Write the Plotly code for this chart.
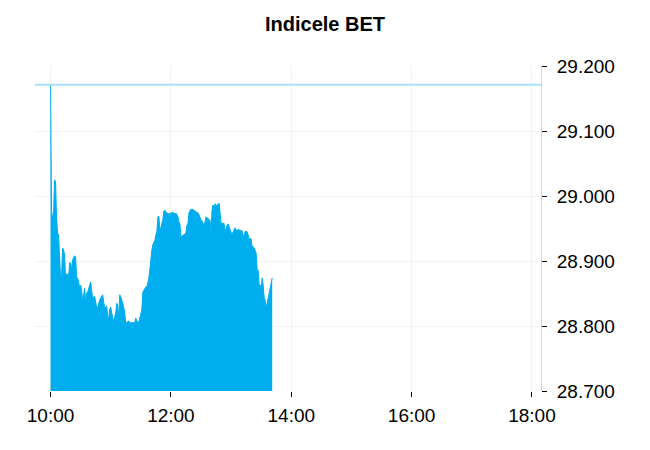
import plotly.graph_objects as go
import pandas as pd

# BET index, one value per minute from 10:00
start_time = "2024-05-20 10:00"
bet_values = [
    29171, 28978, 28966, 28971, 29025, 29022, 28968, 28943, 28940, 28914,
    28875, 28875, 28920, 28917, 28909, 28875, 28880, 28880, 28875, 28897,
    28897, 28886, 28902, 28905, 28908, 28906, 28875, 28874, 28868, 28860,
    28863, 28855, 28837, 28852, 28858, 28837, 28851, 28852, 28858, 28866,
    28868, 28855, 28843, 28845, 28845, 28837, 28828, 28829, 28837, 28840,
    28843, 28845, 28848, 28837, 28829, 28828, 28831, 28814, 28812, 28826,
    28829, 28820, 28814, 28806, 28814, 28820, 28835, 28832, 28809, 28848,
    28845, 28837, 28835, 28828, 28820, 28802, 28806, 28806, 28808, 28805,
    28805, 28805, 28805, 28806, 28805, 28812, 28809, 28805, 28806, 28814,
    28822, 28825, 28852, 28855, 28857, 28860, 28860, 28866, 28874, 28886,
    28905, 28917, 28925, 28929, 28932, 28940, 28945, 28968, 28969, 28948,
    28951, 28958, 28963, 28977, 28978, 28975, 28974, 28974, 28972, 28974,
    28972, 28975, 28974, 28974, 28971, 28974, 28971, 28968, 28960, 28957,
    28938, 28937, 28940, 28940, 28942, 28943, 28955, 28958, 28974, 28977,
    28980, 28978, 28980, 28975, 28978, 28975, 28974, 28974, 28971, 28966,
    28963, 28962, 28958, 28955, 28960, 28968, 28966, 28966, 28963, 28963,
    28943, 28978, 28986, 28983, 28988, 28985, 28986, 28988, 28989, 28975,
    28958, 28958, 28958, 28958, 28945, 28952, 28955, 28957, 28952, 28948,
    28943, 28940, 28945, 28948, 28951, 28948, 28946, 28949, 28948, 28945,
    28948, 28946, 28938, 28940, 28945, 28946, 28945, 28940, 28932, 28935,
    28934, 28922, 28922, 28920, 28914, 28912, 28886, 28886, 28863, 28863,
    28858, 28874, 28863, 28843, 28840, 28829, 28835, 28843, 28852, 28863,
    28871, 28874,
]
prev_close = 29171
y_range = [28700, 29200]
x_range = ["2024-05-20 09:44:30", "2024-05-20 18:09"]

times = pd.date_range(start_time, periods=len(bet_values), freq="min")

fig = go.Figure()
fig.add_trace(go.Scatter(
    x=times, y=bet_values,
    mode="lines",
    line=dict(color="#00aeef", width=1),
    fill="tozeroy",
    fillcolor="#00aeef",
    hoverinfo="skip",
))

# previous close reference line
fig.add_shape(
    type="line", xref="paper", x0=0, x1=1, yref="y", y0=prev_close, y1=prev_close,
    line=dict(color="#a8e2f7", width=2),
)

# page body adds an 8px offset, margins compensate for it
fig.update_layout(
    width=650, height=450,
    title=dict(text="<b>Indicele BET</b>", x=0.4877, xanchor="center", y=0.964, yanchor="middle",
               font=dict(family="Liberation Sans, Arial", size=20, color="#000000")),
    font=dict(family="Liberation Sans, Arial", size=19, color="#000000"),
    separators=",.",
    plot_bgcolor="white", paper_bgcolor="white",
    showlegend=False,
    margin=dict(l=27, r=117, t=58, b=67),
    xaxis=dict(
        type="date", range=x_range, dtick=7200000, tickformat="%H:%M",
        showgrid=True, gridcolor="#f3f3f3", gridwidth=1,
        ticks="outside", ticklen=5, tickcolor="#000000", tickwidth=1,
        ticklabelstandoff=2,
        showline=False, zeroline=False,
    ),
    yaxis=dict(
        side="right", range=y_range, dtick=100, tickformat=",d",
        showgrid=True, gridcolor="#f3f3f3", gridwidth=1,
        ticks="outside", ticklen=5, tickcolor="#000000", tickwidth=1,
        ticklabelstandoff=6,
        showline=True, linecolor="#ccd6eb", linewidth=1,
        zeroline=False,
    ),
)

fig.write_html("out.html")
